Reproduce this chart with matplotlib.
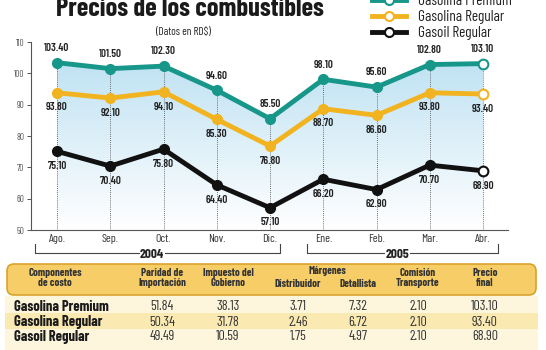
import numpy as np
import matplotlib.pyplot as plt
from matplotlib.patches import FancyBboxPatch, Rectangle, Polygon
from matplotlib.colors import LinearSegmentedColormap

# chart data
months = ['Ago.', 'Sep.', 'Oct.', 'Nov.', 'Dic.', 'Ene.', 'Feb.', 'Mar.', 'Abr.']
premium = [103.40, 101.50, 102.30, 94.60, 85.50, 98.10, 95.60, 102.80, 103.10]
regular = [93.80, 92.10, 94.10, 85.30, 76.80, 88.70, 86.60, 93.80, 93.40]
gasoil = [75.10, 70.40, 75.80, 64.40, 57.10, 66.20, 62.90, 70.70, 68.90]
series_names = ['Gasolina Premium', 'Gasolina Regular', 'Gasoil Regular']
years = ['2004', '2005']

# table data
table_headers = ['Componentes\nde costo', 'Paridad de\nImportación', 'Impuesto del\nGobierno',
                 'Distribuidor', 'Detallista', 'Comisión\nTransporte', 'Precio\nfinal']
table_rows = ['Gasolina Premium', 'Gasolina Regular', 'Gasoil Regular']
table_values = [
    ['51.84', '38.13', '3.71', '7.32', '2.10', '103.10'],
    ['50.34', '31.78', '2.46', '6.72', '2.10', '93.40'],
    ['49.49', '10.59', '1.75', '4.97', '2.10', '68.90'],
]

TEAL = '#17968a'
GOLD = '#f2b320'
BLACK = '#111111'
plt.rcParams['font.family'] = ['Barlow Condensed', 'DejaVu Sans']

W, H = 546, 350
fig = plt.figure(figsize=(W / 100, H / 100), dpi=100)

# overlay in pixel coords for decorations
ov = fig.add_axes([0, 0, 1, 1], zorder=0)
ov.set_xlim(0, W)
ov.set_ylim(H, 0)
ov.axis('off')

# main chart axes (px: left 31, right 508, top 42, bottom 230)
ax = fig.add_axes([31 / W, 1 - 230 / H, (508 - 31) / W, (230 - 42) / H], zorder=1)
ax.patch.set_alpha(0)
x = np.arange(len(months))
ax.set_xlim(-0.49, 8.47)
ax.set_ylim(50, 110)

# gradient fill under the premium line
cmap = LinearSegmentedColormap.from_list('bg', ['#ffffff', '#bfe2f3'])
grad = np.linspace(0, 1, 256).reshape(-1, 1)
im = ax.imshow(grad, extent=[-0.49, 8.47, 50, 104], origin='lower', aspect='auto',
               cmap=cmap, zorder=0)
poly = Polygon(list(zip(x, premium)) + [(x[-1], 50), (x[0], 50)], closed=True,
               transform=ax.transData, facecolor='none', edgecolor='none')
ax.add_patch(poly)
im.set_clip_path(poly)

# dotted guide lines
for xi, p in zip(x, premium):
    ax.plot([xi, xi], [50, p], color='#444444', lw=0.6, ls=(0, (1, 1.5)), zorder=1)

for vals, col in zip([premium, regular, gasoil], [TEAL, GOLD, BLACK]):
    ax.plot(x, vals, color=col, lw=3.5, zorder=3, solid_joinstyle='miter')
    ax.plot(x[:-1], vals[:-1], 'o', color=col, ms=7, mec=col, zorder=4)
    ax.plot(x[-1], vals[-1], 'o', mfc='white', mec=col, mew=1.5, ms=7, zorder=4)

lab = dict(fontsize=8, fontweight='semibold', color='#222222', ha='center')
for xi, v in zip(x, premium):
    ax.annotate(f'{v:.2f}', (xi, v), xytext=(0, 7), textcoords='offset points', va='bottom', **lab)
for xi, v in zip(x, regular):
    ax.annotate(f'{v:.2f}', (xi, v), xytext=(0, -7), textcoords='offset points', va='top', **lab)
for xi, v in zip(x, gasoil):
    ax.annotate(f'{v:.2f}', (xi, v), xytext=(0, -7), textcoords='offset points', va='top', **lab)

for s in ['top', 'right']:
    ax.spines[s].set_visible(False)
for s in ['left', 'bottom']:
    ax.spines[s].set_color('#555555')
    ax.spines[s].set_linewidth(0.8)
ax.set_yticks(range(50, 111, 10))
ax.tick_params(axis='y', labelsize=6.5, colors='#555555', length=3, width=0.7, pad=2)
ax.set_xticks(x)
ax.set_xticklabels(months)
ax.tick_params(axis='x', labelsize=8.5, colors='#333333', length=0, pad=3)

# year brackets
for (x0, x1, xt), yr in zip([(35, 280, 152), (307, 498, 397)], years):
    ov.plot([x0, x0, xt - 13], [244, 253, 253], color='#444444', lw=0.8)
    ov.plot([xt + 13, x1, x1], [253, 253, 244], color='#444444', lw=0.8)
    ov.text(xt, 254, yr, ha='center', va='center', fontsize=9.5, fontweight='bold', color='#222222')

# title, subtitle
ov.text(190, 9, 'Precios de los combustibles', ha='center', va='center',
        fontsize=19, fontweight='bold', color='#1a1a1a')
ov.text(183, 32, '(Datos en RD$)', ha='center', va='center', fontsize=8, color='#222222')

# legend
for i, (name, col) in enumerate(zip(series_names, [TEAL, GOLD, BLACK])):
    yy = 0 + 16 * i
    ov.plot([372, 406], [yy, yy], color=col, lw=3.5)
    ov.plot(389, yy, 'o', mfc='white', mec=col, mew=1.5, ms=6.5)
    ov.text(418, yy + 1, name, ha='left', va='center', fontsize=11, color='#222222')

# table
ov.add_patch(Rectangle((5, 296), 533, 17, facecolor='#fdf5dc', edgecolor='none'))
ov.add_patch(Rectangle((5, 313), 533, 16, facecolor='#fbe9b2', edgecolor='none'))
ov.add_patch(Rectangle((5, 329), 533, 21, facecolor='#fdf5dc', edgecolor='none'))
ov.add_patch(FancyBboxPatch((7, 264), 529, 31, boxstyle='round,pad=0,rounding_size=7',
                            facecolor='#f6cd66', edgecolor='#d9a32c', lw=1.2))
col_x = [55, 162, 228, 298, 358, 418, 485]
hdr = dict(ha='center', va='center', fontsize=7.8, fontweight='bold', color='#333333')
for cx, hd in zip(col_x, table_headers):
    if '\n' in hd:
        ov.text(cx, 278, hd, linespacing=1.05, **hdr)
    else:
        ov.text(cx, 284, hd, **hdr)
ov.text(327, 271, 'Márgenes', **hdr)
for ry, name, vals in zip([307, 322, 337], table_rows, table_values):
    ov.text(14, ry, name, ha='left', va='center', fontsize=10.5, fontweight='bold', color='#1a1a1a')
    for cx, v in zip(col_x[1:], vals):
        ov.text(cx, ry, v, ha='center', va='center', fontsize=10, color='#333333')

fig.savefig('out.png', dpi=100)
